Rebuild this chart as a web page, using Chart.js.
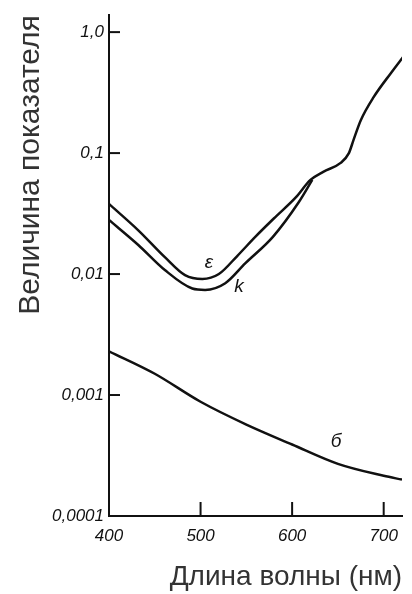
<!DOCTYPE html>
<html>
<head>
<meta charset="utf-8">
<script src="https://cdn.jsdelivr.net/npm/chart.js@4"></script>
<style>
  body { margin: 0; background: #fff; }
  #wrap { width: 412px; height: 594px; }
</style>
</head>
<body>
<div id="wrap"><canvas id="chart"></canvas></div>
<script>
// длина волны (нм) и значения показателей
const epsX = [400, 432, 461, 483, 502, 520, 540, 560, 580, 604, 620, 634, 653, 662, 667, 675, 689, 708, 721];
const epsY = [0.038, 0.023, 0.0138, 0.0098, 0.0091, 0.01, 0.0141, 0.0204, 0.0288, 0.043, 0.06, 0.07, 0.083, 0.1, 0.128, 0.187, 0.29, 0.46, 0.62];
const kX = [400, 432, 461, 491, 505, 527, 549, 579, 607, 622];
const kY = [0.028, 0.0174, 0.0108, 0.0076, 0.0074, 0.0084, 0.0123, 0.0203, 0.039, 0.06];
const sigX = [400, 450, 500, 550, 600, 650, 700, 720];
const sigY = [0.0023, 0.0015, 0.00088, 0.00057, 0.00039, 0.00027, 0.000215, 0.0002];

const xTicks = [400, 500, 600, 700];
const yTicks = [1, 0.1, 0.01, 0.001, 0.0001];
const yTickLabels = ['1,0', '0,1', '0,01', '0,001', '0,0001'];

// подписи кривых: [текст, λ, значение]
const curveLabels = [['ε', 509, 0.0123], ['k', 542, 0.0079], ['б', 648, 0.00041]];

const pts = (xs, ys) => xs.map((x, i) => ({x: x, y: ys[i]}));
const lineStyle = {borderColor: '#111', borderWidth: 2.5, pointRadius: 0, cubicInterpolationMode: 'monotone', fill: false};

const innerTicks = {
  id: 'innerTicks',
  afterDraw(chart) {
    const ctx = chart.ctx, x = chart.scales.x, y = chart.scales.y;
    ctx.save();
    ctx.strokeStyle = '#111';
    ctx.lineWidth = 2;
    yTicks.forEach(v => {
      const py = y.getPixelForValue(v);
      ctx.beginPath(); ctx.moveTo(x.left, py); ctx.lineTo(x.left + 11, py); ctx.stroke();
    });
    xTicks.slice(1).forEach(v => {
      const px = x.getPixelForValue(v);
      ctx.beginPath(); ctx.moveTo(px, y.bottom); ctx.lineTo(px, y.bottom - 14); ctx.stroke();
    });
    ctx.fillStyle = '#111';
    ctx.font = 'italic 19px "Liberation Sans"';
    ctx.textAlign = 'center';
    ctx.textBaseline = 'middle';
    curveLabels.forEach(l => ctx.fillText(l[0], x.getPixelForValue(l[1]), y.getPixelForValue(l[2])));
    ctx.restore();
  }
};

const tickFont = {family: '"Liberation Sans"', style: 'italic', size: 17};

new Chart(document.getElementById('chart'), {
  type: 'line',
  data: {
    datasets: [
      Object.assign({label: 'ε', data: pts(epsX, epsY)}, lineStyle),
      Object.assign({label: 'k', data: pts(kX, kY)}, lineStyle),
      Object.assign({label: 'б', data: pts(sigX, sigY)}, lineStyle)
    ]
  },
  options: {
    responsive: true,
    maintainAspectRatio: false,
    animation: false,
    layout: {padding: {left: 9, right: 10, top: 15, bottom: 0}},
    plugins: {legend: {display: false}, tooltip: {enabled: false}},
    scales: {
      x: {
        type: 'linear',
        min: 400,
        max: 720,
        afterBuildTicks: s => { s.ticks = xTicks.map(v => ({value: v})); },
        afterFit: s => { s.height = 78; },
        grid: {display: true, drawOnChartArea: false, drawTicks: false},
        border: {display: true, color: '#111', width: 2},
        ticks: {padding: 10, color: '#111', font: tickFont, maxRotation: 0},
        title: {display: true, text: 'Длина волны (нм)', align: 'end', color: '#333',
                font: {family: '"Liberation Sans"', size: 28, lineHeight: 0.9}}
      },
      y: {
        type: 'logarithmic',
        min: 0.0001,
        max: 1.38,
        afterBuildTicks: s => { s.ticks = yTicks.map(v => ({value: v})); },
        afterFit: s => { s.width = 100; },
        grid: {display: true, drawOnChartArea: false, drawTicks: false},
        border: {display: true, color: '#111', width: 2},
        ticks: {padding: 5, color: '#111', font: tickFont, callback: (v, i) => yTickLabels[i]},
        title: {display: true, text: 'Величина показателя', align: 'end', color: '#333',
                font: {family: '"Liberation Sans"', size: 30}}
      }
    }
  },
  plugins: [innerTicks]
});
</script>
</body>
</html>
